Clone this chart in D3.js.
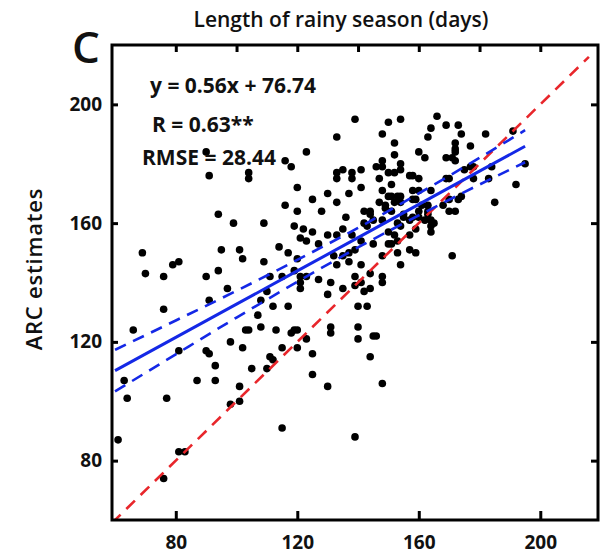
<!DOCTYPE html>
<html>
<head>
<meta charset="utf-8">
<script src="https://cdn.jsdelivr.net/npm/d3@7"></script>
<style>
  body { margin: 0; background: #fff; }
  text { font-family: "Open Sans", sans-serif; fill: #111; }
</style>
</head>
<body>
<div id="chart"></div>
<script>
// observed (x) vs ARC estimates (y), length of rainy season in days
var obsDays = [90,91,104,104,94,99,69,70,76,79,81,95,101,102,90,94,97,91,
  139,133,123,116,118,133,133,135,138,138,141,120,130,137,141,125,133,116,120,128,136,142,144,
  109,119,122,121,123,125,130,133,135,138,144,145,142,143,127,114,117,120,132,135,137,139,141,145,
  133,137,109,111,115,119,121,141,121,123,127,131,139,141,144,139,142,144,130,135,108,110,121,
  112,117,107,108,113,118,119,120,123,115,120,111,112,110,125,125,130,131,131,140,143,140,140,145,
  144,148,146,115,139,
  76,66,81,90,91,98,102,103,104,93,105,63,87,93,101,64,77,98,101,61,81,83,76,
  166,150,154,169,173,148,163,164,174,182,191,152,172,172,172,177,160,152,162,169,171,172,148,148,146,
  154,154,178,184,195,150,152,157,158,160,175,177,183,192,147,151,169,170,178,148,158,160,164,
  150,151,153,154,147,149,149,151,152,154,155,158,159,161,163,170,173,174,168,185,160,163,163,170,172,
  148,155,157,158,160,162,164,165,153,154,164,164,150,152,157,159,150,151,153,153,157,159,154,171,148,148,148];
var arcDays = [184,176,175,177,163,160,150,143,142,146,147,151,151,148,142,144,138,134,
  195,189,184,181,179,177,175,178,177,175,178,172,170,170,172,168,167,166,164,164,162,164,164,
  160,159,158,155,154,157,156,156,158,156,163,161,160,159,153,152,150,148,149,149,150,151,154,153,
  146,147,147,142,142,144,142,146,140,142,141,140,142,140,143,139,137,138,136,138,134,137,138,
  132,132,129,125,124,123,124,124,121,118,118,115,114,111,116,109,105,125,123,132,132,125,121,122,
  115,106,122,91,88,
  131,124,117,117,116,120,118,124,124,112,111,107,107,107,105,101,101,99,100,87,83,83,74,
  196,194,195,193,193,190,189,192,190,190,191,187,187,185,184,186,184,183,182,182,182,181,181,179,179,
  180,178,179,179,180,177,177,176,176,175,178,179,175,173,175,173,175,175,175,171,171,171,171,
  169,169,169,169,167,166,165,164,167,167,163,168,168,166,166,168,168,169,166,167,164,164,163,164,164,
  161,162,161,162,162,161,161,160,160,159,159,157,157,156,156,158,153,153,154,150,151,150,146,149,149,142,140];

// fitted line and its 95% band
var fitX = [60, 80, 100, 120, 140, 160, 180, 195];
var fitY = [110.3, 121.5, 132.7, 143.9, 155.1, 166.3, 177.5, 185.9];
var bandUpper = [117.3, 127.2, 137.2, 147.6, 158.4, 170.0, 182.0, 191.3];
var bandLower = [103.3, 115.8, 128.2, 140.2, 151.8, 162.6, 173.0, 180.5];
var oneToOne = [59, 216];

var labelTicks = [80, 120, 160, 200];
var topTicks = [80, 100, 120, 140, 160, 180, 200];
var statLines = ["y = 0.56x + 76.74", "R = 0.63**", "RMSE = 28.44"];

var W = 605, H = 555;
var box = {left: 112, right: 598, top: 45, bottom: 520};

var svg = d3.select("#chart").append("svg")
    .attr("width", W)
    .attr("height", H);

var x = d3.scaleLinear().domain([59, 219]).range([box.left, box.right]);
var y = d3.scaleLinear().domain([60, 220]).range([box.bottom, box.top]);

svg.append("clipPath").attr("id", "clip")
  .append("rect")
    .attr("x", box.left).attr("y", box.top)
    .attr("width", box.right - box.left).attr("height", box.bottom - box.top);

var plot = svg.append("g").attr("clip-path", "url(#clip)");

// points
plot.selectAll("circle")
  .data(obsDays.map(function(d, i) { return [d, arcDays[i]]; }))
  .enter()
  .append("circle")
    .attr("cx", function(d) { return x(d[0]); })
    .attr("cy", function(d) { return y(d[1]); })
    .attr("r", 3.8)
    .attr("fill", "#000");

var line = d3.line()
    .x(function(d) { return x(d[0]); })
    .y(function(d) { return y(d[1]); });

// 1:1 line
plot.append("path")
    .attr("d", line(oneToOne.map(function(v) { return [v, v]; })))
    .attr("fill", "none")
    .attr("stroke", "#e8262b")
    .attr("stroke-width", 2.6)
    .attr("stroke-dasharray", "12,8");

var curve = d3.line()
    .x(function(d) { return x(d[0]); })
    .y(function(d) { return y(d[1]); })
    .curve(d3.curveMonotoneX);

[bandUpper, bandLower].forEach(function(b) {
  plot.append("path")
      .attr("d", curve(fitX.map(function(v, i) { return [v, b[i]]; })))
      .attr("fill", "none")
      .attr("stroke", "#1428e6")
      .attr("stroke-width", 2.6)
      .attr("stroke-dasharray", "12,8");
});

plot.append("path")
    .attr("d", line(fitX.map(function(v, i) { return [v, fitY[i]]; })))
    .attr("fill", "none")
    .attr("stroke", "#1428e6")
    .attr("stroke-width", 3);

// axes
var xAxis = svg.append("g")
    .attr("transform", "translate(0," + box.bottom + ")")
    .call(d3.axisBottom(x).tickValues(labelTicks).tickSize(-9).tickPadding(16));
var yAxis = svg.append("g")
    .attr("transform", "translate(" + box.left + ",0)")
    .call(d3.axisLeft(y).tickValues(labelTicks).tickSize(-6).tickPadding(10));
var xTop = svg.append("g")
    .attr("transform", "translate(0," + box.top + ")")
    .call(d3.axisTop(x).tickValues(topTicks).tickSize(-7).tickFormat(""));
var yRight = svg.append("g")
    .attr("transform", "translate(" + box.right + ",0)")
    .call(d3.axisRight(y).tickValues(labelTicks).tickSize(-7).tickFormat(""));

[xAxis, yAxis, xTop, yRight].forEach(function(a) {
  a.select(".domain").remove();
  a.selectAll(".tick line").attr("stroke", "#000").attr("stroke-width", 3);
  a.selectAll(".tick text")
    .style("font-family", "'Open Sans', sans-serif")
    .style("font-size", "19px")
    .style("font-weight", "700")
    .attr("fill", "#111");
});

svg.append("rect")
    .attr("x", box.left).attr("y", box.top)
    .attr("width", box.right - box.left).attr("height", box.bottom - box.top)
    .attr("fill", "none")
    .attr("stroke", "#000")
    .attr("stroke-width", 3);

// text
svg.append("text")
    .text("Length of rainy season (days)")
    .attr("x", 341).attr("y", 27)
    .attr("text-anchor", "middle")
    .style("font-size", "21px")
    .style("font-weight", "600");

svg.append("text")
    .text("C")
    .attr("x", 72).attr("y", 63)
    .style("font-size", "44px")
    .style("font-weight", "600");

svg.append("g")
    .attr("transform", "translate(42,269)")
  .append("text")
    .text("ARC estimates")
    .attr("text-anchor", "middle")
    .attr("transform", "rotate(-90)")
    .style("font-size", "22px")
    .style("letter-spacing", "0.8px")
    .style("font-weight", "600");

var statX = [150, 152, 142], statY = [93, 132, 165];
statLines.forEach(function(s, i) {
  svg.append("text")
      .text(s)
      .attr("x", statX[i]).attr("y", statY[i])
      .style("font-size", "21px")
      .style("font-weight", "700");
});
</script>
</body>
</html>
